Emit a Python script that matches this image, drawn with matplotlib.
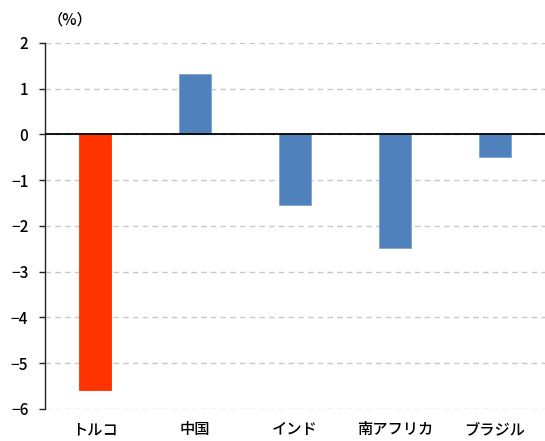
import numpy as np
import matplotlib
matplotlib.use('Agg')
import matplotlib.pyplot as plt

plt.rcParams['font.family'] = ['Noto Sans CJK JP', 'DejaVu Sans']
plt.rcParams['axes.unicode_minus'] = True

# data
countries = ['トルコ', '中国', 'インド', '南アフリカ', 'ブラジル']
values = [-5.58, 1.33, -1.55, -2.48, -0.50]
colors = ['#FF3300', '#4F81BD', '#4F81BD', '#4F81BD', '#4F81BD']
yticks = [2, 1, 0, -1, -2, -3, -4, -5, -6]

fig = plt.figure(figsize=(5.45, 4.41), dpi=100)
ax = fig.add_axes([0.0826, 0.0726, 0.9174, 0.83])

x = np.arange(len(countries))
ax.bar(x, values, width=0.32, color=colors, edgecolor=['#FF3300'] + ['#7FA3D3'] * 4,
       linewidth=0.6, zorder=3)

ax.set_xlim(-0.5, 4.5)
ax.set_ylim(-6, 2)
ax.set_yticks(yticks)
ax.yaxis.grid(True, color='#C8C8C8', linestyle=(0, (4, 3)), linewidth=1.0, zorder=0)
ax.axhline(0, color='black', linewidth=1.3, zorder=4)

for s in ['top', 'right', 'bottom']:
    ax.spines[s].set_visible(False)
ax.spines['left'].set_color('#222222')
ax.spines['left'].set_linewidth(1.0)

ax.set_xticks(x)
ax.set_xticklabels(countries, fontsize=11, fontweight='medium')
ax.tick_params(axis='x', length=0, pad=9)
ax.tick_params(axis='y', length=4, width=1.0, color='#222222', labelsize=11, pad=8)
for lbl in ax.get_yticklabels():
    lbl.set_fontweight('medium')

fig.text(0.128, 0.955, '（%）', fontsize=11, fontweight='medium', ha='center', va='center')

fig.savefig('out.png', dpi=100)
